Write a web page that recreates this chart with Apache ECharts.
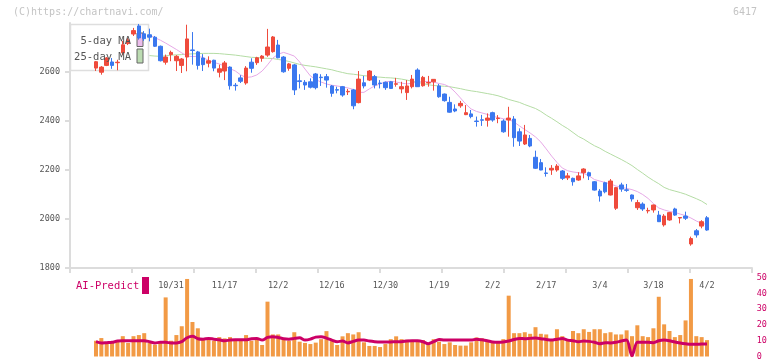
<!DOCTYPE html>
<html>
<head>
<meta charset="utf-8">
<script src="https://cdn.jsdelivr.net/npm/echarts@6/dist/echarts.min.js"></script>
<style>
html,body{margin:0;padding:0;background:#fff;}
#chart{width:772px;height:361px;}
</style>
</head>
<body>
<div id="chart"></div>
<script>
// trading days (10/10/2025 - 4/2/2026)
const dates = ['10/10','10/14','10/15','10/16','10/17','10/20','10/21','10/22','10/23','10/24','10/27','10/28','10/29','10/30','10/31',
'11/4','11/5','11/6','11/7','11/10','11/11','11/12','11/13','11/14','11/17','11/18','11/19','11/20','11/21','11/25','11/26','11/27','11/28',
'12/1','12/2','12/3','12/4','12/5','12/8','12/9','12/10','12/11','12/12','12/15','12/16','12/17','12/18','12/19','12/22','12/23','12/24','12/25','12/26','12/29','12/30',
'1/5','1/6','1/7','1/8','1/9','1/13','1/14','1/15','1/16','1/19','1/20','1/21','1/22','1/23','1/26','1/27','1/28','1/29','1/30',
'2/2','2/3','2/4','2/5','2/6','2/9','2/10','2/12','2/13','2/16','2/17','2/18','2/19','2/20','2/24','2/25','2/26','2/27',
'3/2','3/3','3/4','3/5','3/6','3/9','3/10','3/11','3/12','3/13','3/16','3/17','3/18','3/19','3/23','3/24','3/25','3/26','3/27','3/30','3/31','4/1','4/2'];

// [open, close, low, high]
const candles = [
[2616,2642,2604,2645],[2599,2620,2589,2624],[2627,2657,2624,2661],[2641,2627,2613,2657],[2638,2640,2607,2650],
[2678,2711,2669,2727],[2716,2731,2710,2739],[2755,2769,2747,2780],[2788,2739,2732,2796],[2756,2736,2727,2767],
[2752,2742,2725,2777],[2742,2705,2702,2747],[2705,2646,2643,2708],[2640,2661,2630,2671],[2671,2680,2644,2687],
[2646,2664,2604,2669],[2627,2653,2596,2657],[2661,2735,2603,2793],[2690,2688,2630,2763],[2682,2627,2610,2686],
[2657,2630,2604,2673],[2636,2646,2619,2664],[2648,2616,2603,2650],[2599,2613,2578,2630],[2604,2637,2567,2645],
[2620,2544,2528,2623],[2546,2544,2524,2555],[2576,2562,2555,2587],[2555,2616,2548,2624],[2640,2615,2597,2656],
[2638,2658,2629,2662],[2656,2665,2642,2669],[2669,2702,2662,2776],[2683,2743,2679,2747],[2710,2658,2656,2731],
[2661,2601,2597,2665],[2615,2633,2605,2637],[2629,2527,2506,2633],[2564,2561,2533,2591],[2558,2547,2527,2567],
[2560,2538,2533,2574],[2592,2536,2529,2596],[2579,2577,2543,2591],[2581,2567,2536,2592],[2543,2513,2499,2547],
[2528,2526,2513,2540],[2540,2506,2499,2543],[2519,2521,2506,2531],[2527,2462,2448,2531],[2475,2571,2472,2604],
[2556,2543,2533,2584],[2567,2604,2563,2608],[2581,2547,2533,2588],[2555,2553,2533,2567],[2558,2536,2527,2561],
[2560,2533,2531,2563],[2550,2552,2540,2576],[2531,2540,2513,2560],[2516,2543,2486,2567],[2540,2571,2533,2588],
[2608,2540,2539,2615],[2544,2578,2540,2584],[2555,2557,2540,2584],[2560,2570,2524,2571],[2543,2499,2495,2551],
[2510,2483,2479,2512],[2476,2436,2434,2499],[2449,2441,2436,2468],[2462,2472,2454,2482],[2426,2434,2424,2465],
[2429,2418,2411,2445],[2400,2398,2377,2418],[2405,2403,2380,2425],[2403,2412,2377,2431],[2434,2404,2397,2438],
[2410,2412,2391,2424],[2400,2356,2352,2407],[2404,2412,2336,2458],[2408,2332,2295,2420],[2356,2318,2298,2370],
[2306,2343,2302,2384],[2329,2298,2293,2343],[2252,2207,2204,2279],[2230,2200,2199,2245],[2188,2186,2173,2211],
[2200,2207,2180,2220],[2200,2216,2193,2224],[2196,2166,2159,2200],[2168,2176,2159,2188],[2166,2152,2136,2169],
[2159,2176,2156,2191],[2189,2204,2166,2207],[2189,2176,2159,2193],[2152,2118,2116,2155],[2114,2094,2071,2122],
[2148,2111,2105,2152],[2098,2155,2096,2163],[2044,2128,2037,2131],[2139,2122,2111,2148],[2119,2117,2111,2143],
[2098,2082,2071,2100],[2046,2067,2037,2078],[2061,2041,2033,2068],[2033,2035,2023,2046],[2037,2057,2026,2059],
[2016,1989,1988,2033],[1976,2012,1969,2020],[1996,2026,1993,2029],[2041,2016,2013,2046],[2004,2006,1982,2008],
[2012,2003,1996,2030],[1898,1920,1891,1928],[1952,1935,1924,1959],[1971,1989,1962,1995],[2005,1955,1952,2012]
];

const ma5 = [null,null,null,null,null,null,null,null,null,
2755,2749,2740,2730,2718,2705,2692,2678,2665,2663,2664,2659,2647,2639,2633,2624,2614,2604,2588,2578,2580,
2588,2604,2629,2657,2673,2680,2673,2665,2641,2612,2584,2569,2559,2551,2546,2543,2539,2535,2529,2517,
2517,2531,2543,2551,2560,2562,2559,2555,2551,2555,2559,2561,2561,2559,2553,2549,2539,2518,2494,2469,
2449,2439,2433,2427,2420,2414,2409,2406,2396,2380,2365,2351,2335,2314,2286,2257,2231,2208,2197,2192,
2189,2186,2176,2161,2155,2149,2143,2135,2129,2125,2120,2112,2100,2084,2063,2045,2037,2031,2027,2020,
2014,2004,1992,1982,1978];

const ma25 = [null,null,null,null,null,null,null,null,null,
2666,2667,2665,2664,2666,2669,2670,2671,2673,2674,2675,2676,2676,2676,2675,2673,2671,2669,2666,2663,2660,
2659,2657,2656,2655,2651,2648,2643,2637,2631,2627,2624,2621,2617,2613,2609,2603,2598,2593,2591,2588,
2585,2583,2580,2579,2577,2576,2574,2571,2567,2562,2558,2553,2548,2545,2543,2542,2540,2536,2532,2527,
2523,2520,2516,2512,2508,2503,2496,2488,2482,2476,2467,2459,2451,2439,2424,2411,2397,2382,2369,2353,
2337,2326,2312,2299,2289,2276,2265,2254,2243,2231,2218,2202,2187,2171,2157,2144,2129,2120,2114,2108,
2101,2092,2083,2073,2059];

const volume = [10.0,11.7,8.6,9.0,10.4,12.9,8.6,12.9,13.6,14.8,8.6,7.5,8.6,37.5,10.0,13.6,19.2,49.2,21.9,17.9,
11.5,11.0,10.0,12.3,11.5,12.3,10.0,10.0,13.6,10.0,10.6,7.3,34.8,14.0,14.0,11.0,10.0,15.4,9.4,8.6,
7.9,8.8,11.0,16.1,9.8,7.3,12.8,14.8,14.0,15.4,9.0,6.7,6.7,6.0,7.9,11.0,12.8,11.0,10.6,10.4,
10.4,10.4,7.9,11.0,9.4,7.9,9.0,7.3,6.9,6.9,9.0,12.1,11.5,9.4,9.0,9.0,11.0,38.6,14.8,14.8,
15.4,14.4,18.6,14.4,14.0,11.0,17.3,12.9,11.0,16.2,14.8,17.3,15.6,17.3,17.3,14.8,15.4,14.0,14.0,16.6,
12.9,19.8,12.9,12.3,17.9,37.9,20.4,16.2,12.3,13.6,22.9,49.2,12.9,12.3,10.4];

const aiPredict = [9.4,8.6,8.8,9.0,9.8,10.0,10.0,10.0,10.0,10.0,9.4,8.6,9.0,9.0,8.6,8.6,9.4,11.9,12.8,11.3,
11.0,11.5,11.0,10.6,10.0,10.4,10.6,10.6,10.6,11.3,11.5,10.4,12.1,12.6,12.1,11.3,11.0,11.5,11.9,10.4,
11.0,12.3,12.6,11.7,10.4,9.4,9.8,8.6,9.6,10.4,10.4,9.8,9.4,9.2,9.2,9.2,9.4,9.4,9.8,10.0,
10.0,9.4,8.1,9.4,10.8,10.4,10.4,10.4,10.4,10.4,10.4,11.0,10.6,10.0,9.2,9.0,9.2,9.8,10.8,11.5,
11.3,11.5,11.7,11.3,10.8,10.4,11.0,11.5,10.4,10.0,9.4,9.8,9.6,9.0,8.1,8.8,8.6,9.0,9.8,10.4,
0.4,9.0,9.0,9.0,8.8,10.0,10.4,10.0,9.2,8.6,8.1,7.7,7.7,7.9,7.9];

const priceTicks = {min: 1800, max: 2800, step: 200};
const volTicks = {min: 0, max: 50, step: 10};
const firstLabelIndex = 14, labelEvery = 10;

const FONT = "'DejaVu Sans Mono', monospace";
const RED = '#ef4b3c', BLUE = '#3b78ef', AXIS = '#dcdcdc', TXT = '#555', CRIM = '#cc0066';

const chart = echarts.init(document.getElementById('chart'), null, {renderer: 'canvas'});
chart.setOption({
  animation: false,
  grid: [
    {left: 70, right: 20, top: 23, bottom: 93},
    {left: 93.3, right: 62.3, top: 23, bottom: 93},
    {left: 93.3, right: 62.3, top: 277.7, bottom: 3.3}
  ],
  xAxis: [
    {gridIndex: 0, type: 'value', min: 0, max: 11, interval: 1,
     axisLine: {show: true, lineStyle: {color: AXIS, width: 2}},
     axisTick: {show: true, length: 5, lineStyle: {color: AXIS, width: 2}},
     axisLabel: {show: false}, splitLine: {show: false}},
    {gridIndex: 1, type: 'category', data: dates, boundaryGap: true,
     axisLine: {show: false}, axisTick: {show: false}, splitLine: {show: false},
     axisLabel: {interval: (i) => (i - firstLabelIndex) % labelEvery === 0 && i >= firstLabelIndex,
                 margin: 13, color: TXT, fontFamily: FONT, fontSize: 8.5}},
    {gridIndex: 2, type: 'category', data: dates, boundaryGap: true, show: false}
  ],
  yAxis: [
    {gridIndex: 0, type: 'value', min: priceTicks.min, max: priceTicks.max, interval: priceTicks.step,
     axisLine: {show: true, lineStyle: {color: AXIS, width: 2}},
     axisTick: {show: true, length: 5, lineStyle: {color: AXIS, width: 2}},
     axisLabel: {margin: 10, color: TXT, fontFamily: FONT, fontSize: 8.5, showMaxLabel: false,
                 formatter: (v) => String(v)},
     splitLine: {show: false}},
    {gridIndex: 1, type: 'value', min: priceTicks.min, max: priceTicks.max, show: false},
    {gridIndex: 2, type: 'value', min: volTicks.min, max: volTicks.max, interval: volTicks.step, position: 'right',
     axisLine: {show: false}, axisTick: {show: false}, splitLine: {show: false},
     axisLabel: {margin: 47, color: CRIM, fontFamily: FONT, fontSize: 8.5}}
  ],
  series: [
    {type: 'line', name: '25-day MA', xAxisIndex: 1, yAxisIndex: 1, data: ma25, symbol: 'none', z: 1,
     lineStyle: {color: '#b4dca4', width: 1}},
    {type: 'line', name: '5-day MA', xAxisIndex: 1, yAxisIndex: 1, data: ma5, symbol: 'none', z: 1,
     lineStyle: {color: '#e6a8e6', width: 1}},
    {type: 'candlestick', xAxisIndex: 1, yAxisIndex: 1, data: candles, barWidth: 4, z: 3, clip: false,
     itemStyle: {color: RED, color0: BLUE, borderColor: RED, borderColor0: BLUE, borderWidth: 1}},
    {type: 'bar', xAxisIndex: 2, yAxisIndex: 2, data: volume, barWidth: 4, z: 2,
     itemStyle: {color: '#f29a45'}},
    {type: 'line', xAxisIndex: 2, yAxisIndex: 2, data: aiPredict, symbol: 'none', smooth: 0.3, z: 3,
     lineStyle: {color: CRIM, width: 3}}
  ],
  graphic: [
    {type: 'text', x: 13, y: 12, z: 10, style: {text: '(C)https://chartnavi.com/', fill: '#c4c4c4', font: '10px ' + FONT, verticalAlign: 'middle'}},
    {type: 'text', x: 757, y: 12, z: 10, style: {text: '6417', fill: '#c4c4c4', font: '10px ' + FONT, align: 'right', verticalAlign: 'middle'}},
    {type: 'rect', z: 2, shape: {x: 70.5, y: 24.5, width: 78, height: 46}, style: {fill: '#fff', stroke: '#dedede', lineWidth: 1.5}},
    {type: 'text', x: 131, y: 41, z: 10, style: {text: '5-day MA', fill: TXT, font: '10.5px ' + FONT, align: 'right', verticalAlign: 'middle'}},
    {type: 'text', x: 131, y: 57, z: 10, style: {text: '25-day MA', fill: TXT, font: '10.5px ' + FONT, align: 'right', verticalAlign: 'middle'}},
    {type: 'rect', z: 2, shape: {x: 137, y: 33, width: 6, height: 13.5}, style: {fill: '#ecbcec', stroke: '#666', lineWidth: 1}},
    {type: 'rect', z: 2, shape: {x: 137, y: 49, width: 6, height: 14}, style: {fill: '#bcdcb2', stroke: '#666', lineWidth: 1}},
    {type: 'text', x: 76, y: 286, z: 10, style: {text: 'AI-Predict', fill: CRIM, font: '10.5px ' + FONT, verticalAlign: 'middle'}},
    {type: 'rect', z: 10, shape: {x: 142, y: 277, width: 7, height: 17}, style: {fill: CRIM}}
  ]
});
</script>
</body>
</html>
